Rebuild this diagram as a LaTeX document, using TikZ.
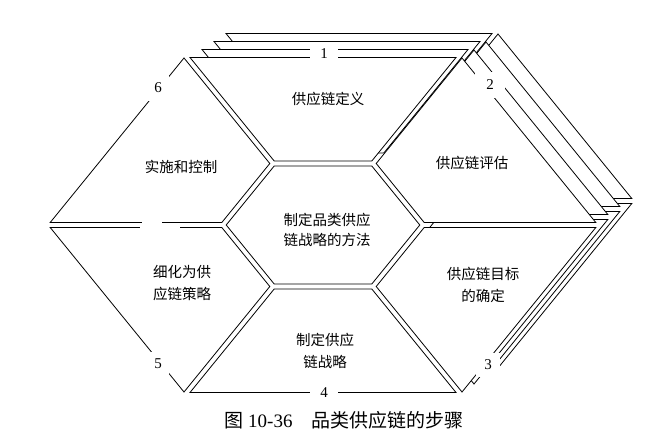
\documentclass[tikz,border=0pt]{standalone}
\usepackage{fontspec}
\setmainfont{Liberation Serif}
\newfontfamily\cjk{Noto Sans CJK SC}
\usetikzlibrary{positioning}

% sheets of the hexagon (pixel coordinates, y pointing down)
\newcommand{\SegCenter}{(226.2,225) -- (274.2,166) -- (371.8,166) -- (419.8,225) -- (371.8,284) -- (274.2,284) -- cycle}
\newcommand{\SegOne}{(190.0,57.5) -- (456.0,57.5) -- (371.8,161) -- (274.2,161) -- cycle}
\newcommand{\SegTwo}{(376.2,163.5) -- (462.0,58.0) -- (595.8,222.5) -- (424.2,222.5) -- cycle}
\newcommand{\SegThree}{(424.2,227.5) -- (595.8,227.5) -- (462.0,392.0) -- (376.2,286.5) -- cycle}
\newcommand{\SegFour}{(274.2,289) -- (371.8,289) -- (456.0,392.5) -- (190.0,392.5) -- cycle}
\newcommand{\SegFive}{(221.8,227.5) -- (269.8,286.5) -- (184.0,392.0) -- (50.2,227.5) -- cycle}
\newcommand{\SegSix}{(50.2,222.5) -- (184.0,58.0) -- (269.8,163.5) -- (221.8,222.5) -- cycle}

\begin{document}
\begin{tikzpicture}[
  x=1pt, y=-1pt,
  sheet/.style={draw, fill=white, line width=0.8pt, line join=miter},
  txt/.style={font=\cjk\fontsize{14.5}{22}\selectfont, align=center, inner sep=0pt},
  num/.style={fill=white, inner sep=0pt, font=\fontsize{15}{15}\selectfont},
  caption/.style={font=\fontsize{19}{21}\selectfont, inner sep=0pt}
]
\useasboundingbox (0,0) rectangle (659,438);

% stacked sheets behind steps 1-3
\foreach \k in {3,2,1} {
  \filldraw[sheet, shift={(12*\k,-8*\k)}] \SegOne;
  \filldraw[sheet, shift={(12*\k,-8*\k)}] \SegTwo;
  \filldraw[sheet, shift={(12*\k,-8*\k)}] \SegThree;
}

% front sheets
\filldraw[sheet] \SegCenter;
\filldraw[sheet] \SegOne;
\filldraw[sheet] \SegTwo;
\filldraw[sheet] \SegThree;
\filldraw[sheet] \SegFour;
\filldraw[sheet] \SegFive;
\filldraw[sheet] \SegSix;

% breaks in the left divider
\fill[white] (142,219.5) rectangle (162,224.6);
\fill[white] (140,225.4) rectangle (180,230);

% step texts
\node[txt, font=\cjk\fontsize{14.5}{20}\selectfont] (method) at (327,230) {制定品类供应\\链战略的方法};
\node[txt] (define)  at (328,99)  {供应链定义};
\node[txt] (assess)  at (472,163) {供应链评估};
\node[txt] (goal)    at (483,285) {供应链目标\\的确定};
\node[txt] (strat)   at (325,351) {制定供应\\链战略};
\node[txt] (refine)  at (182,283) {细化为供\\应链策略};
\node[txt] (control) at (181,167) {实施和控制};

% step numbers
\node[num, minimum width=28pt, minimum height=14pt] (n1) at (324,54)  {1};
\node[num, minimum width=30pt, minimum height=26pt] (n2) at (490,85)  {2};
\node[num, minimum width=24pt, minimum height=24pt] (n3) at (488,365) {3};
\node[num, minimum width=28pt, minimum height=12pt] (n4) at (324,393) {4};
\node[num, minimum width=22pt, minimum height=24pt] (n5) at (158,364) {5};
\node[num, minimum width=22pt, minimum height=26pt] (n6) at (158,88)  {6};

% caption
\node[caption] (title) at (344,420) {{\cjk 图} 10-36\hspace{1em}{\cjk 品类供应链的步骤}};
\end{tikzpicture}
\end{document}
